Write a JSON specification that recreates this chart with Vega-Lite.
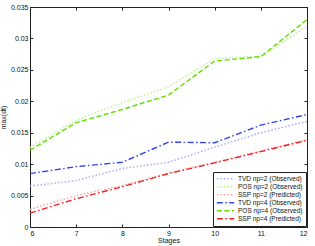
{
  "$schema": "https://vega.github.io/schema/vega-lite/v6.json",
  "width": 277,
  "height": 220,
  "autosize": {"type": "none"},
  "padding": {"left": 30, "top": 7, "right": 8, "bottom": 19},
  "background": "white",
  "config": {
    "font": "Liberation Sans",
    "view": {"stroke": "#222", "strokeWidth": 1},
    "axis": {"grid": false, "domainColor": "#222", "tickColor": "#222", "labelFontSize": 7, "labelColor": "#111", "titleFontSize": 7, "titleFontWeight": "normal", "titleColor": "#111"}
  },
  "data": {
    "values": [
      {"stage": 6, "series": "TVD np=2 (Observed)", "value": 0.0065},
      {"stage": 7, "series": "TVD np=2 (Observed)", "value": 0.0074},
      {"stage": 8, "series": "TVD np=2 (Observed)", "value": 0.0093},
      {"stage": 9, "series": "TVD np=2 (Observed)", "value": 0.0103},
      {"stage": 10, "series": "TVD np=2 (Observed)", "value": 0.0127},
      {"stage": 11, "series": "TVD np=2 (Observed)", "value": 0.0150},
      {"stage": 12, "series": "TVD np=2 (Observed)", "value": 0.0168},
      {"stage": 6, "series": "POS np=2 (Observed)", "value": 0.0126},
      {"stage": 7, "series": "POS np=2 (Observed)", "value": 0.0170},
      {"stage": 8, "series": "POS np=2 (Observed)", "value": 0.0198},
      {"stage": 9, "series": "POS np=2 (Observed)", "value": 0.0223},
      {"stage": 10, "series": "POS np=2 (Observed)", "value": 0.0268},
      {"stage": 11, "series": "POS np=2 (Observed)", "value": 0.0272},
      {"stage": 12, "series": "POS np=2 (Observed)", "value": 0.0319},
      {"stage": 6, "series": "SSP np=2 (Predicted)", "value": 0.0028},
      {"stage": 7, "series": "SSP np=2 (Predicted)", "value": 0.0050},
      {"stage": 8, "series": "SSP np=2 (Predicted)", "value": 0.0066},
      {"stage": 9, "series": "SSP np=2 (Predicted)", "value": 0.0086},
      {"stage": 10, "series": "SSP np=2 (Predicted)", "value": 0.0103},
      {"stage": 11, "series": "SSP np=2 (Predicted)", "value": 0.0121},
      {"stage": 12, "series": "SSP np=2 (Predicted)", "value": 0.0139},
      {"stage": 6, "series": "TVD np=4 (Observed)", "value": 0.0085},
      {"stage": 7, "series": "TVD np=4 (Observed)", "value": 0.0096},
      {"stage": 8, "series": "TVD np=4 (Observed)", "value": 0.0103},
      {"stage": 9, "series": "TVD np=4 (Observed)", "value": 0.0135},
      {"stage": 10, "series": "TVD np=4 (Observed)", "value": 0.0134},
      {"stage": 11, "series": "TVD np=4 (Observed)", "value": 0.0162},
      {"stage": 12, "series": "TVD np=4 (Observed)", "value": 0.0179},
      {"stage": 6, "series": "POS np=4 (Observed)", "value": 0.0122},
      {"stage": 7, "series": "POS np=4 (Observed)", "value": 0.0166},
      {"stage": 8, "series": "POS np=4 (Observed)", "value": 0.0187},
      {"stage": 9, "series": "POS np=4 (Observed)", "value": 0.0210},
      {"stage": 10, "series": "POS np=4 (Observed)", "value": 0.0264},
      {"stage": 11, "series": "POS np=4 (Observed)", "value": 0.0271},
      {"stage": 12, "series": "POS np=4 (Observed)", "value": 0.0330},
      {"stage": 6, "series": "SSP np=4 (Predicted)", "value": 0.0022},
      {"stage": 7, "series": "SSP np=4 (Predicted)", "value": 0.0045},
      {"stage": 8, "series": "SSP np=4 (Predicted)", "value": 0.0064},
      {"stage": 9, "series": "SSP np=4 (Predicted)", "value": 0.0085},
      {"stage": 10, "series": "SSP np=4 (Predicted)", "value": 0.0102},
      {"stage": 11, "series": "SSP np=4 (Predicted)", "value": 0.0120},
      {"stage": 12, "series": "SSP np=4 (Predicted)", "value": 0.0138}
    ]
  },
  "layer": [
    {
      "mark": {"type": "line", "strokeWidth": 1.4},
      "encoding": {
        "x": {"field": "stage", "type": "quantitative", "scale": {"domain": [6, 12], "nice": false},
              "axis": {"title": "Stages", "values": [6,7,8,9,10,11,12], "tickSize": -3, "labelPadding": 5, "titlePadding": 0}},
        "y": {"field": "value", "type": "quantitative", "scale": {"domain": [0, 0.035], "nice": false},
              "axis": {"title": "max(dt)", "values": [0,0.005,0.01,0.015,0.02,0.025,0.03,0.035], "format": "~g", "tickSize": -3, "labelPadding": 5, "titlePadding": 4}},
        "color": {"field": "series", "type": "nominal",
          "scale": {"domain": ["TVD np=2 (Observed)", "POS np=2 (Observed)", "SSP np=2 (Predicted)", "TVD np=4 (Observed)", "POS np=4 (Observed)", "SSP np=4 (Predicted)"],
                    "range": ["#a6a6ff", "#b8f58a", "#ff9f9f", "#3344ee", "#66dd00", "#ee2222"]},
          "legend": {"title": null, "orient": "bottom-right", "offset": 1, "fillColor": "white", "strokeColor": "#222", "padding": 3, "labelFontSize": 6.5, "labelColor": "#111", "symbolType": "stroke", "symbolSize": 300, "symbolStrokeWidth": 1.4, "rowPadding": 0, "clipHeight": 7.6, "labelOffset": 3}},
        "strokeDash": {"field": "series", "type": "nominal",
          "scale": {"domain": ["TVD np=2 (Observed)", "POS np=2 (Observed)", "SSP np=2 (Predicted)", "TVD np=4 (Observed)", "POS np=4 (Observed)", "SSP np=4 (Predicted)"],
                    "range": [[1.5, 2], [1.5, 2], [1.5, 2], [6, 2.5, 1.5, 2.5], [5, 2.5], [6, 2.5, 1.5, 2.5]]},
          "legend": {"title": null, "orient": "bottom-right", "offset": 1, "fillColor": "white", "strokeColor": "#222", "padding": 3, "labelFontSize": 6.5, "labelColor": "#111", "symbolType": "stroke", "symbolSize": 300, "symbolStrokeWidth": 1.4, "rowPadding": 0, "clipHeight": 7.6, "labelOffset": 3}}
      }
    },
    {
      "mark": {"type": "point", "opacity": 0},
      "encoding": {
        "x": {"field": "stage", "type": "quantitative", "axis": {"orient": "top", "title": null, "labels": false, "values": [6,7,8,9,10,11,12], "tickSize": -3}},
        "y": {"field": "value", "type": "quantitative", "axis": {"orient": "right", "title": null, "labels": false, "values": [0,0.005,0.01,0.015,0.02,0.025,0.03,0.035], "tickSize": -3}}
      }
    }
  ],
  "resolve": {"axis": {"x": "independent", "y": "independent"}}
}
